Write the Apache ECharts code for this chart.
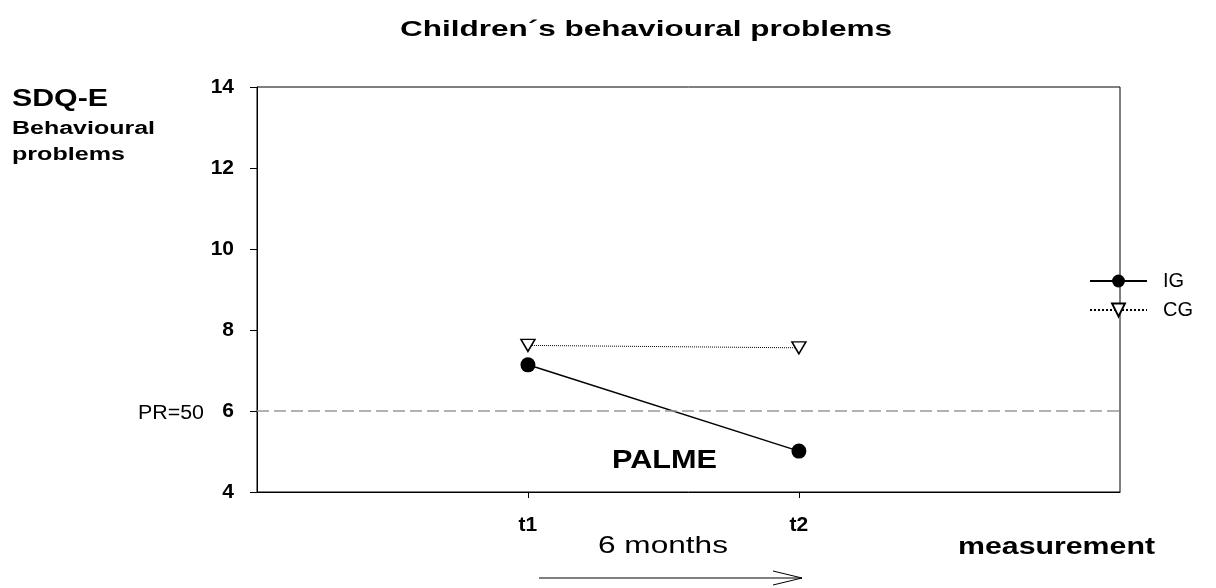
<!DOCTYPE html>
<html><head><meta charset="utf-8">
<script src="https://cdn.jsdelivr.net/npm/echarts@6/dist/echarts.min.js"></script>
<style>html,body{margin:0;padding:0;background:#fff}#c{width:1216px;height:588px}</style>
</head><body><div id="c"></div>
<script>
const timePoints = [1, 2];
const timeLabels = ['t1', 't2'];
const igValues = [7.14, 5.01];
const cgValues = [7.62, 7.56];
const yTicks = [4, 6, 8, 10, 12, 14];
const referenceLine = 6;

const F = '"Liberation Sans", Arial, sans-serif';
const measureCtx = document.createElement('canvas').getContext('2d');
function stretchedText(text, font, x, yMid, width) {
  measureCtx.font = font;
  const w = measureCtx.measureText(text).width;
  return {type: 'text', x: x, y: yMid, scaleX: width / w, z: 100,
    style: {text: text, font: font, fill: '#000', verticalAlign: 'middle', align: 'left'}};
}

const chart = echarts.init(document.getElementById('c'));
chart.setOption({
  animation: false,
  backgroundColor: '#fff',
  grid: {left: 257, right: 96, top: 87, bottom: 96, show: true, borderColor: '#000', borderWidth: 1},
  xAxis: {
    type: 'value', min: 0, max: 3.185,
    axisLine: {lineStyle: {color: '#000', width: 1}},
    axisTick: {show: true, length: 6, customValues: timePoints, lineStyle: {color: '#000'}},
    axisLabel: {
      customValues: timePoints, margin: 23,
      formatter: v => timeLabels[timePoints.indexOf(v)] || '',
      fontFamily: F, fontSize: 21, fontWeight: 'bold', color: '#000'
    },
    splitLine: {show: false}
  },
  yAxis: {
    type: 'value', min: 4, max: 14, interval: 2,
    axisLine: {show: true, lineStyle: {color: '#000', width: 1}},
    axisTick: {show: true, length: 7, lineStyle: {color: '#000'}},
    axisLabel: {margin: 23, fontFamily: F, fontSize: 21, fontWeight: 'bold', color: '#000',
      formatter: v => yTicks.includes(v) ? String(v) : ''},
    splitLine: {show: false}
  },
  legend: {
    orient: 'vertical', left: 1084, top: 266, itemWidth: 57, itemHeight: 16, itemGap: 9,
    textStyle: {fontFamily: F, fontSize: 20, color: '#000', lineHeight: 20, padding: [0, 0, 0, 11]},
    data: ['IG', 'CG']
  },
  series: [
    {
      name: 'IG', type: 'line',
      data: timePoints.map((t, i) => [t, igValues[i]]),
      symbol: 'circle', symbolSize: 15,
      itemStyle: {color: '#000'},
      lineStyle: {color: '#000', width: 1.5},
      markLine: {
        silent: true, symbol: 'none', label: {show: false},
        lineStyle: {color: '#999', type: [12, 5], width: 1.5},
        data: [{yAxis: referenceLine}]
      },
      z: 3
    },
    {
      name: 'CG', type: 'line',
      data: timePoints.map((t, i) => [t, cgValues[i]]),
      symbol: 'triangle', symbolRotate: 180, symbolSize: [14, 12],
      itemStyle: {color: '#fff', borderColor: '#000', borderWidth: 1.5},
      lineStyle: {color: '#000', width: 1, type: 'dotted'},
      z: 4
    }
  ],
  graphic: [
    stretchedText('Children\u00b4s behavioural problems', 'bold 22px ' + F, 400, 30, 492),
    stretchedText('SDQ-E', 'bold 23px ' + F, 12, 100, 96),
    stretchedText('Behavioural', 'bold 18px ' + F, 12, 129, 143),
    stretchedText('problems', 'bold 18px ' + F, 12, 155, 113),
    stretchedText('PR=50', '20px ' + F, 138, 413, 66),
    stretchedText('PALME', 'bold 25px ' + F, 612, 461, 105),
    stretchedText('6 months', '24px ' + F, 598, 546, 130),
    stretchedText('measurement', 'bold 23px ' + F, 958, 548, 197),
    {type: 'polyline', shape: {points: [[539, 578], [802, 578]]}, style: {stroke: '#000', lineWidth: 1}},
    {type: 'polyline', shape: {points: [[773, 571], [802, 578], [773, 585]]}, style: {stroke: '#000', lineWidth: 1, fill: null}}
  ]
});
</script></body></html>
